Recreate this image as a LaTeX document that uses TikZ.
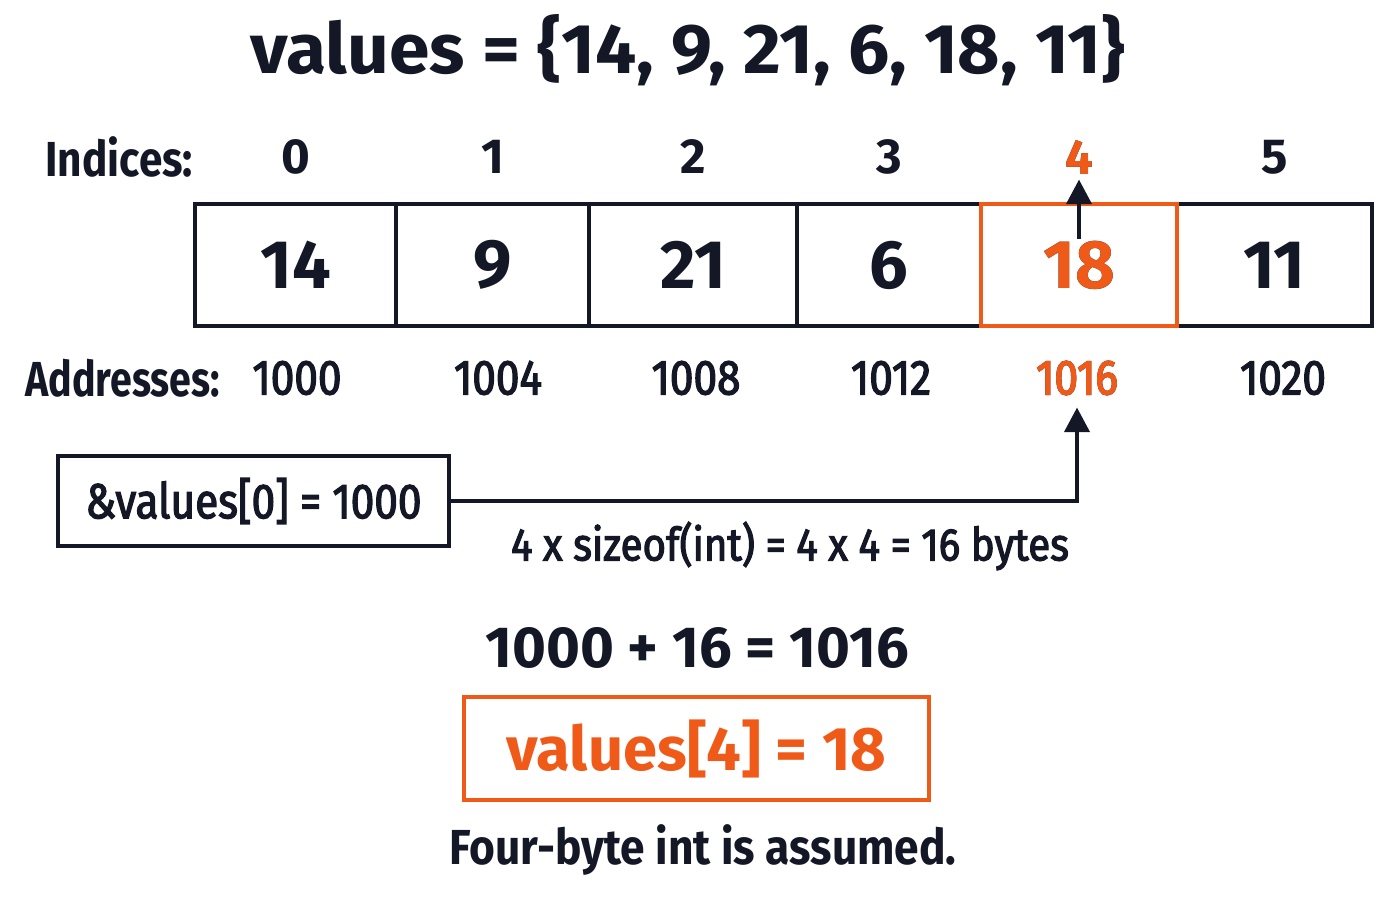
\documentclass[tikz,border=0pt]{standalone}
\usepackage{fontspec}
\setmainfont{Fira Sans}
\usetikzlibrary{arrows.meta}
\definecolor{ink}{RGB}{20,24,38}
\definecolor{hot}{RGB}{240,90,25}
\newcommand{\narrow}[1]{\addfontfeature{FakeStretch=#1}}
\newcommand{\medw}{\addfontfeature{FakeBold=2.5}}
\tikzset{
  cellnum/.style={font=\bfseries\fontsize{19.5}{22}\selectfont, text=ink},
  idxnum/.style={font=\bfseries\fontsize{14}{17}\selectfont, text=ink},
  small/.style={font=\fontsize{14}{17}\selectfont\narrow{0.86}\medw, text=ink},
  arr/.style={-{Triangle[width=7pt,length=7pt]}, line width=1.4pt, draw=ink}
}
\begin{document}
\begin{tikzpicture}
      \useasboundingbox (0,0) rectangle (14,9);
      \node (title) at (6.88,8.5) {\bfseries\fontsize{20}{24}\selectfont\narrow{1.04}\color{ink}values = \{14, 9, 21, 6, 18, 11\}};
      \node[idxnum,anchor=west,font=\bfseries\fontsize{14}{17}\selectfont\narrow{0.86}] (idx) at (0.33,7.43) {Indices:};
      \node[idxnum,anchor=west,font=\bfseries\fontsize{14}{17}\selectfont\narrow{0.8}] (adr) at (0.13,5.22) {Addresses:};
      \foreach \l/\r/\v/\i/\a/\ax in {1.95/3.96/14/0/1000/2.97, 3.96/5.89/9/1/1004/4.98, 5.89/7.97/21/2/1008/6.96,
                                 7.97/9.81/6/3/1012/8.91, 9.81/11.77/18/4/1016/10.77, 11.77/13.72/11/5/1020/12.83}
      {
        \draw[ink,line width=1.3pt] (\l,5.74) rectangle (\r,6.96);
        \node[cellnum] (c\i) at ({(\l+\r)/2},6.35) {\v};
        \node[idxnum] (i\i) at ({(\l+\r)/2},7.43) {\i};
        \node[small] (a\i) at (\ax,5.22) {\a};
      }
      % highlighted element
      \draw[hot,line width=1.3pt] (9.81,5.74) rectangle (11.77,6.96);
      \node[cellnum,text=hot] at (c4) {18};
      \node[idxnum,text=hot] at (i4) {4};
      \node[small,text=hot] at (a4) {1016};
      \draw[arr] ([yshift=-3pt]c4.north) -- ([yshift=2pt]i4.south);

      \node[small,draw=ink,line width=1.3pt,minimum width=3.91cm,minimum height=0.9cm] (base) at (2.535,3.99) {\&values[0] = 1000};
      \draw[arr] (base.east) -| (a4.south);
      \node[small,font=\fontsize{13}{16}\selectfont\narrow{0.88}\medw] (off) at (7.9,3.54) {4 x sizeof(int) = 4 x 4 = 16 bytes};

      \node[font=\bfseries\fontsize{16.5}{19}\selectfont,text=ink] (sum) at (6.97,2.52) {1000 + 16 = 1016};
      \node[draw=hot,line width=1.3pt,minimum width=4.65cm,minimum height=1.03cm,
            font=\bfseries\fontsize{17.5}{20}\selectfont,text=hot] (res) at (6.965,1.515) {values[4] = 18};
      \node[font=\bfseries\fontsize{14}{17}\selectfont\narrow{0.9},text=ink] (note) at (7.03,0.5) {Four-byte int is assumed.};
\end{tikzpicture}
\end{document}
